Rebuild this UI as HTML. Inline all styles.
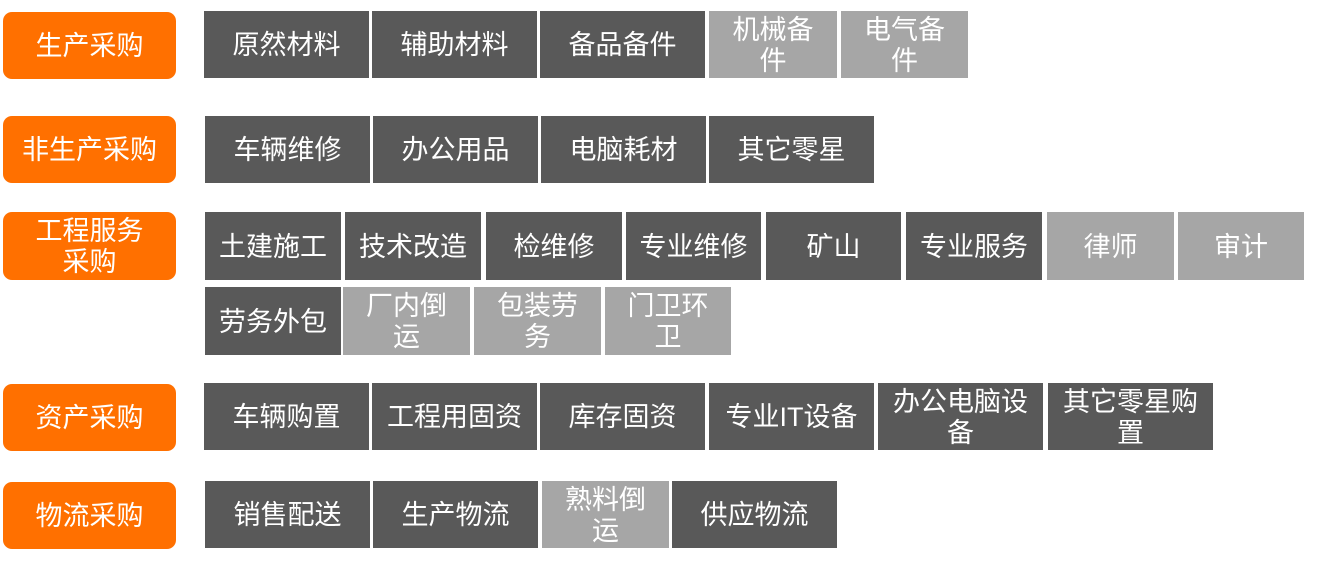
<!DOCTYPE html><html><head><meta charset="utf-8"><style>
body{margin:0;width:1324px;height:568px;background:#fff;position:relative;overflow:hidden;font-family:"Liberation Sans","Noto Sans CJK SC",sans-serif;}
div{position:absolute;color:#fff;font-size:27px;line-height:31px;display:flex;align-items:center;justify-content:center;text-align:center;box-sizing:border-box;padding:2px 0 0 0;white-space:nowrap}
.o{background:#ff7000;border-radius:9px}
.d{background:#595959}
.l{background:#a6a6a6}
</style></head><body>
<div class="o" style="left:3px;top:12px;width:173px;height:67px">生产采购</div>
<div class="d" style="left:204px;top:11px;width:165px;height:67px">原然材料</div>
<div class="d" style="left:372px;top:11px;width:165px;height:67px">辅助材料</div>
<div class="d" style="left:540px;top:11px;width:165px;height:67px">备品备件</div>
<div class="l" style="left:709px;top:11px;width:128px;height:67px">机械备<br>件</div>
<div class="l" style="left:841px;top:11px;width:127px;height:67px">电气备<br>件</div>

<div class="o" style="left:3px;top:116px;width:173px;height:67px">非生产采购</div>
<div class="d" style="left:205px;top:116px;width:165px;height:67px">车辆维修</div>
<div class="d" style="left:373px;top:116px;width:165px;height:67px">办公用品</div>
<div class="d" style="left:541px;top:116px;width:165px;height:67px">电脑耗材</div>
<div class="d" style="left:709px;top:116px;width:165px;height:67px">其它零星</div>

<div class="o" style="left:3px;top:212px;width:173px;height:68px">工程服务<br>采购</div>
<div class="d" style="left:205px;top:212px;width:136px;height:68px">土建施工</div>
<div class="d" style="left:345px;top:212px;width:136px;height:68px">技术改造</div>
<div class="d" style="left:486px;top:212px;width:136px;height:68px">检维修</div>
<div class="d" style="left:626px;top:212px;width:135px;height:68px">专业维修</div>
<div class="d" style="left:766px;top:212px;width:135px;height:68px">矿山</div>
<div class="d" style="left:906px;top:212px;width:136px;height:68px">专业服务</div>
<div class="l" style="left:1047px;top:212px;width:127px;height:68px">律师</div>
<div class="l" style="left:1178px;top:212px;width:126px;height:68px">审计</div>
<div class="d" style="left:205px;top:287px;width:136px;height:68px">劳务外包</div>
<div class="l" style="left:343px;top:287px;width:127px;height:68px">厂内倒<br>运</div>
<div class="l" style="left:474px;top:287px;width:127px;height:68px">包装劳<br>务</div>
<div class="l" style="left:605px;top:287px;width:126px;height:68px">门卫环<br>卫</div>

<div class="o" style="left:3px;top:384px;width:173px;height:67px">资产采购</div>
<div class="d" style="left:204px;top:383px;width:165px;height:67px">车辆购置</div>
<div class="d" style="left:372px;top:383px;width:165px;height:67px">工程用固资</div>
<div class="d" style="left:540px;top:383px;width:165px;height:67px">库存固资</div>
<div class="d" style="left:709px;top:383px;width:165px;height:67px">专业IT设备</div>
<div class="d" style="left:878px;top:383px;width:165px;height:67px">办公电脑设<br>备</div>
<div class="d" style="left:1048px;top:383px;width:165px;height:67px">其它零星购<br>置</div>

<div class="o" style="left:3px;top:482px;width:173px;height:67px">物流采购</div>
<div class="d" style="left:205px;top:481px;width:165px;height:67px">销售配送</div>
<div class="d" style="left:373px;top:481px;width:165px;height:67px">生产物流</div>
<div class="l" style="left:542px;top:481px;width:127px;height:67px">熟料倒<br>运</div>
<div class="d" style="left:672px;top:481px;width:165px;height:67px">供应物流</div>
</body></html>
